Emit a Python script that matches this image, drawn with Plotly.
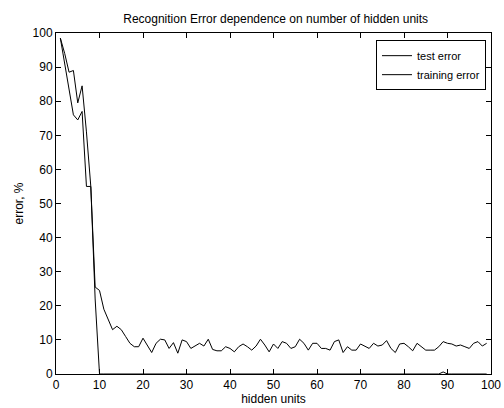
import plotly.graph_objects as go

hidden_units = list(range(1, 100))

test_error = [
    98.5, 94, 88.5, 89, 79.5, 84.5, 71, 55, 25.5, 24.5,
    19, 16, 13, 14, 13, 11, 9, 8, 8, 10.5,
    8.5, 6.3, 9, 10.2, 10, 7.5, 9.2, 6.1, 10, 9.5,
    7.5, 8.2, 9, 8.2, 10.2, 7.2, 6.8, 6.8, 8, 7.5,
    6.5, 8, 8.8, 8, 7, 8.2, 10.2, 8.5, 6.5, 8.8,
    7.5, 9.5, 9, 7.5, 8, 10.2, 9, 7, 9, 9,
    7.5, 7.5, 7, 9.5, 10, 6.3, 8, 7, 7, 8.8,
    8.2, 7.5, 9, 8.2, 8.5, 9.8, 7.5, 6.3, 8.8, 9,
    8, 6.8, 9, 8, 7, 7, 7, 8, 9.5, 9,
    8.8, 8.2, 8.5, 8, 7.5, 9, 9.5, 8.2, 9,
]

training_error = [
    98.5, 91, 83.5, 76, 74.5, 77, 55, 55, 22, 0,
] + [0] * 78 + [0.6] + [0] * 10

x_ticks = [0, 10, 20, 30, 40, 50, 60, 70, 80, 90, 100]
y_ticks = [0, 10, 20, 30, 40, 50, 60, 70, 80, 90, 100]

FAM = "Liberation Sans, Arial, sans-serif"
font = dict(family=FAM, size=12, color="black")
tick_font = dict(family=FAM, size=12, color="black")
legend_font = dict(family=FAM, size=11, color="black")

fig = go.Figure()
fig.add_trace(go.Scatter(x=hidden_units, y=test_error, mode="lines",
                         name="test error", line=dict(color="black", width=1)))
fig.add_trace(go.Scatter(x=hidden_units, y=training_error, mode="lines",
                         name="training error", line=dict(color="black", width=1)))

axis_common = dict(showline=True, linecolor="black", linewidth=1, mirror="ticks",
                   ticks="inside", ticklen=5, tickcolor="black", showgrid=False,
                   zeroline=False, tickfont=tick_font, automargin=False)

fig.update_layout(
    width=504, height=408,
    margin=dict(l=56, r=13, t=33, b=34),
    paper_bgcolor="white", plot_bgcolor="white",
    font=font,
    title=dict(text="Recognition Error dependence on number of hidden units",
               x=0.547, xanchor="center", y=0.955, yanchor="middle",
               font=font),
    xaxis=dict(range=[0, 100], tickvals=x_ticks,
               title=dict(text="hidden units", standoff=3, font=font), **axis_common),
    yaxis=dict(range=[0, 100], tickvals=y_ticks,
               title=dict(text="error, %", standoff=6, font=font), **axis_common),
    legend=dict(x=0.9885, xanchor="right", y=0.979, yanchor="top",
                bgcolor="white", bordercolor="black", borderwidth=1,
                font=legend_font, tracegroupgap=0, itemwidth=30),
    showlegend=True,
)

fig.write_html("out.html")
